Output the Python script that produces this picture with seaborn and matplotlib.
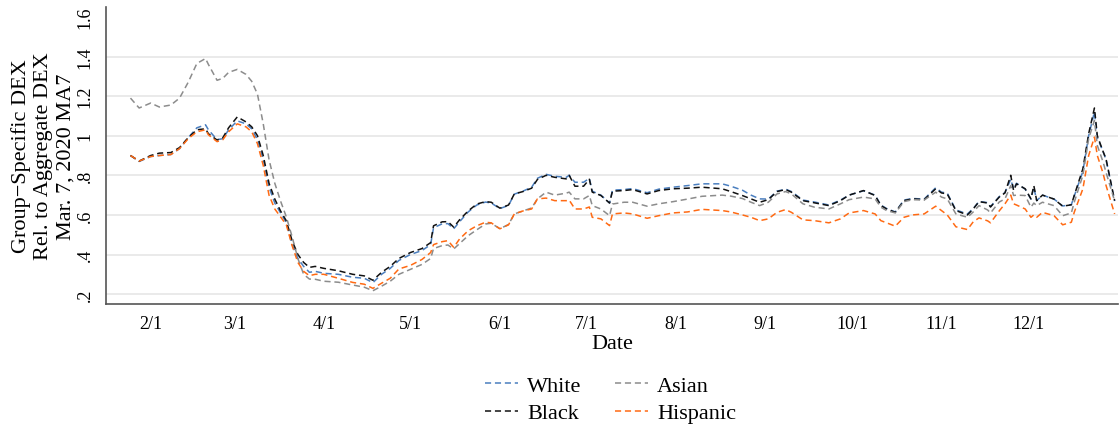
import matplotlib
matplotlib.use("Agg")
import matplotlib.pyplot as plt
import matplotlib.dates as mdates
import numpy as np
import pandas as pd
import seaborn as sns

# dates (2020)
dates = ["01-25", "01-28", "02-01", "02-04", "02-08", "02-11", "02-14", "02-17", "02-20", "02-21",
         "02-24", "02-26", "02-28", "03-02", "03-05", "03-07", "03-09", "03-11", "03-13", "03-15",
         "03-17", "03-19", "03-21", "03-23", "03-25", "03-27", "03-29", "04-01", "04-06", "04-11",
         "04-15", "04-18", "04-21", "04-24", "04-27", "05-01", "05-05", "05-08", "05-09", "05-12",
         "05-14", "05-16", "05-18", "05-21", "05-24", "05-27", "05-29", "06-01", "06-04", "06-06",
         "06-09", "06-12", "06-14", "06-17", "06-20", "06-24", "06-25", "06-27", "06-30", "07-02",
         "07-03", "07-06", "07-09", "07-10", "07-14", "07-17", "07-22", "07-26", "07-31", "08-05",
         "08-10", "08-17", "08-20", "08-24", "08-27", "08-30", "09-02", "09-05", "09-08", "09-10",
         "09-14", "09-18", "09-23", "09-27", "09-30", "10-05", "10-09", "10-11", "10-13", "10-16",
         "10-19", "10-22", "10-26", "10-30", "11-01", "11-03", "11-06", "11-10", "11-12", "11-14",
         "11-17", "11-18", "11-21", "11-23", "11-25", "11-26", "11-27", "11-30", "12-02", "12-03",
         "12-04", "12-06", "12-10", "12-13", "12-16", "12-17", "12-20", "12-22", "12-24", "12-25",
         "12-27", "12-28", "12-31"]

white = [0.90, 0.87, 0.895, 0.90, 0.905, 0.935, 0.99, 1.04, 1.055, 1.03,
         0.98, 0.985, 1.03, 1.075, 1.06, 1.035, 0.98, 0.88, 0.74, 0.66,
         0.61, 0.56, 0.45, 0.38, 0.34, 0.31, 0.315, 0.305, 0.30, 0.285,
         0.28, 0.258, 0.30, 0.33, 0.37, 0.40, 0.42, 0.45, 0.535, 0.555,
         0.556, 0.53, 0.565, 0.615, 0.65, 0.665, 0.66, 0.632, 0.648, 0.705,
         0.72, 0.74, 0.785, 0.805, 0.795, 0.79, 0.80, 0.765, 0.765, 0.785,
         0.72, 0.70, 0.66, 0.725, 0.728, 0.733, 0.712, 0.73, 0.74, 0.748,
         0.757, 0.757, 0.745, 0.725, 0.70, 0.681, 0.68, 0.72, 0.73, 0.718,
         0.675, 0.665, 0.65, 0.675, 0.70, 0.722, 0.70, 0.65, 0.632, 0.615,
         0.675, 0.683, 0.68, 0.737, 0.715, 0.71, 0.625, 0.605, 0.632, 0.668,
         0.662, 0.642, 0.692, 0.713, 0.78, 0.73, 0.76, 0.73, 0.68, 0.74,
         0.672, 0.70, 0.68, 0.645, 0.652, 0.695, 0.82, 1.00, 1.12, 0.99,
         0.92, 0.88, 0.67]

black = [0.90, 0.872, 0.90, 0.912, 0.915, 0.94, 0.99, 1.03, 1.035, 1.01,
         0.978, 0.99, 1.04, 1.095, 1.07, 1.045, 1.00, 0.90, 0.76, 0.68,
         0.62, 0.57, 0.47, 0.40, 0.36, 0.335, 0.34, 0.33, 0.318, 0.30,
         0.292, 0.27, 0.31, 0.34, 0.38, 0.41, 0.43, 0.46, 0.545, 0.565,
         0.566, 0.538, 0.575, 0.62, 0.655, 0.667, 0.664, 0.634, 0.65, 0.706,
         0.718, 0.735, 0.779, 0.80, 0.79, 0.782, 0.80, 0.745, 0.745, 0.78,
         0.715, 0.698, 0.66, 0.72, 0.723, 0.728, 0.706, 0.723, 0.732, 0.735,
         0.74, 0.732, 0.718, 0.698, 0.681, 0.664, 0.677, 0.718, 0.728, 0.715,
         0.672, 0.661, 0.647, 0.672, 0.70, 0.723, 0.698, 0.647, 0.63, 0.613,
         0.672, 0.681, 0.677, 0.732, 0.711, 0.706, 0.622, 0.60, 0.63, 0.667,
         0.66, 0.64, 0.69, 0.711, 0.80, 0.723, 0.757, 0.732, 0.681, 0.748,
         0.672, 0.70, 0.68, 0.644, 0.651, 0.698, 0.833, 1.01, 1.14, 1.00,
         0.92, 0.884, 0.672]

asian = [1.19, 1.14, 1.165, 1.145, 1.155, 1.19, 1.27, 1.365, 1.39, 1.36,
         1.28, 1.29, 1.32, 1.335, 1.31, 1.275, 1.21, 1.06, 0.88, 0.76,
         0.67, 0.59, 0.49, 0.38, 0.30, 0.276, 0.275, 0.265, 0.26, 0.246,
         0.235, 0.217, 0.24, 0.265, 0.30, 0.325, 0.35, 0.38, 0.43, 0.445,
         0.448, 0.428, 0.455, 0.495, 0.525, 0.554, 0.558, 0.53, 0.552, 0.605,
         0.62, 0.635, 0.681, 0.715, 0.70, 0.71, 0.715, 0.681, 0.681, 0.698,
         0.647, 0.63, 0.596, 0.655, 0.664, 0.664, 0.644, 0.656, 0.667, 0.68,
         0.694, 0.70, 0.695, 0.683, 0.664, 0.647, 0.664, 0.706, 0.718, 0.706,
         0.656, 0.639, 0.63, 0.656, 0.677, 0.69, 0.681, 0.639, 0.622, 0.61,
         0.667, 0.677, 0.675, 0.715, 0.69, 0.681, 0.605, 0.588, 0.615, 0.647,
         0.625, 0.61, 0.665, 0.681, 0.748, 0.698, 0.70, 0.698, 0.639, 0.66,
         0.647, 0.664, 0.647, 0.596, 0.61, 0.664, 0.80, 0.985, 1.077, 0.951,
         0.867, 0.816, 0.67]

hispanic = [0.90, 0.872, 0.895, 0.90, 0.905, 0.935, 0.985, 1.02, 1.03, 1.005,
            0.97, 0.98, 1.02, 1.06, 1.045, 1.02, 0.96, 0.85, 0.70, 0.63,
            0.59, 0.55, 0.445, 0.36, 0.315, 0.293, 0.30, 0.30, 0.28, 0.259,
            0.25, 0.229, 0.255, 0.28, 0.327, 0.345, 0.375, 0.41, 0.45, 0.465,
            0.47, 0.436, 0.478, 0.52, 0.545, 0.563, 0.56, 0.53, 0.55, 0.605,
            0.62, 0.63, 0.681, 0.685, 0.672, 0.672, 0.675, 0.63, 0.63, 0.64,
            0.588, 0.58, 0.546, 0.605, 0.61, 0.605, 0.583, 0.596, 0.61, 0.615,
            0.628, 0.622, 0.615, 0.60, 0.588, 0.571, 0.58, 0.613, 0.627, 0.613,
            0.575, 0.571, 0.56, 0.58, 0.61, 0.622, 0.605, 0.571, 0.56, 0.543,
            0.588, 0.60, 0.605, 0.644, 0.622, 0.60, 0.54, 0.526, 0.565, 0.585,
            0.57, 0.56, 0.62, 0.656, 0.70, 0.656, 0.65, 0.63, 0.588, 0.60,
            0.588, 0.613, 0.596, 0.55, 0.563, 0.613, 0.732, 0.90, 0.993, 0.90,
            0.81, 0.75, 0.605]

groups = ["White", "Black", "Asian", "Hispanic"]
colors = ["#4a7ebf", "#111111", "#8c8c8c", "#ff6a13"]
yticks = [0.2, 0.4, 0.6, 0.8, 1.0, 1.2, 1.4, 1.6]
ytick_labels = [".2", ".4", ".6", ".8", "1", "1.2", "1.4", "1.6"]
xtick_months = [2, 3, 4, 5, 6, 7, 8, 9, 10, 11, 12]

df = pd.DataFrame({"date": pd.to_datetime(["2020-" + d for d in dates]),
                   "White": white, "Black": black, "Asian": asian, "Hispanic": hispanic})
long = df.melt(id_vars="date", var_name="group", value_name="dex")

sns.set_style("white")
plt.rcParams["font.family"] = ["Liberation Serif", "DejaVu Serif"]
plt.rcParams["text.color"] = "black"
plt.rcParams["axes.labelcolor"] = "black"

fig = plt.figure(figsize=(11.2, 4.27), dpi=100)
ax = fig.add_axes([0.0946, 0.2857, 0.9034, 0.6955])

sns.lineplot(data=long, x="date", y="dex", hue="group", hue_order=groups,
             palette=colors, linewidth=1.1, ax=ax, legend=False)
for ln in ax.lines:
    ln.set_linestyle((0, (4, 2.5)))

ax.set_ylim(0.15, 1.65)
ax.set_xlim(pd.Timestamp("2020-01-16 12:00"), pd.Timestamp("2021-01-01 02:00"))
ax.set_yticks(yticks)
ax.set_yticklabels(ytick_labels, rotation=90, va="center", fontsize=13)
ax.set_xticks([pd.Timestamp(2020, m, 1) for m in xtick_months])
ax.xaxis.set_major_formatter(mdates.DateFormatter("%-m/%-d"))
ax.tick_params(axis="x", labelsize=13, length=5, color="#555555", labelcolor="black", pad=3)
ax.tick_params(axis="y", length=5, color="#555555", labelcolor="black", pad=4)

ax.grid(axis="y", color="#e6e6e6", linewidth=1.2)
ax.get_ygridlines()[-1].set_visible(False)
ax.set_axisbelow(True)

for side in ["top", "right"]:
    ax.spines[side].set_visible(False)
for side in ["left", "bottom"]:
    ax.spines[side].set_color("#555555")
    ax.spines[side].set_linewidth(1.2)

ax.set_xlabel("Date", fontsize=16, labelpad=1)
ax.set_ylabel("Group\u2212Specific DEX\nRel. to Aggregate DEX\nMar. 7, 2020 MA7",
              fontsize=16, linespacing=1.2, labelpad=1)

handles = [plt.Line2D([], [], color=c, linewidth=1.1, linestyle=(0, (4, 2.5))) for c in colors]
fig.legend(handles, groups, ncol=2, loc="center", bbox_to_anchor=(0.545, 0.062),
           frameon=False, fontsize=16, handlelength=1.5, handletextpad=0.4,
           columnspacing=1.5, labelspacing=0.3)

fig.savefig("out.png", dpi=100)
